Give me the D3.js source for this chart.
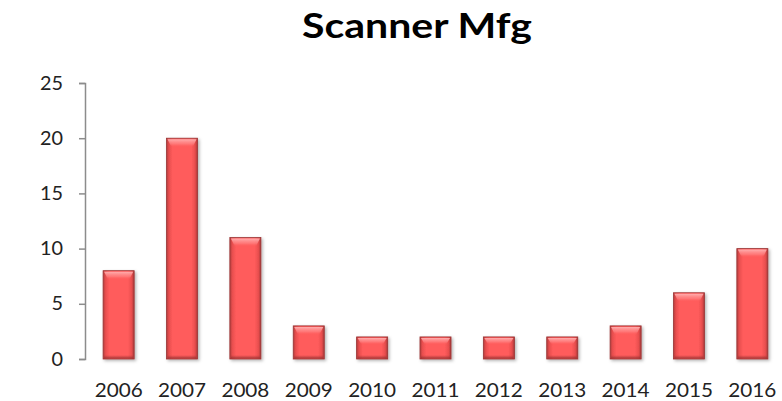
<!DOCTYPE html>
<html>
<head>
<meta charset="utf-8">
<script src="https://cdn.jsdelivr.net/npm/d3@7"></script>
<style>
  html, body { margin: 0; padding: 0; background: #fff; }
  svg { display: block; }
</style>
</head>
<body>
<script>
const title = "Scanner Mfg";
const years = ["2006","2007","2008","2009","2010","2011","2012","2013","2014","2015","2016"];
const values = [8, 20, 11, 3, 2, 2, 2, 2, 3, 6, 10];
const yTicks = [0, 5, 10, 15, 20, 25];

const W = 782, H = 401;
const svg = d3.select("body").append("svg").attr("width", W).attr("height", H);

const defs = svg.append("defs");
const g1 = defs.append("linearGradient").attr("id", "barH").attr("x1", 0).attr("x2", 1).attr("y1", 0).attr("y2", 0);
[[0, "#b33c3c"], [0.08, "#e84e4e"], [0.2, "#ff5c5c"], [0.8, "#ff5c5c"], [0.92, "#e84e4e"], [1, "#a83838"]]
  .forEach(([o, c]) => g1.append("stop").attr("offset", o).attr("stop-color", c));
const g2 = defs.append("linearGradient").attr("id", "barTop").attr("x1", 0).attr("x2", 0).attr("y1", 0).attr("y2", 1);
[[0, "#ffb3b3", 0.95], [0.6, "#ff8a8a", 0.6], [1, "#ff5c5c", 0]]
  .forEach(([o, c, a]) => g2.append("stop").attr("offset", o).attr("stop-color", c).attr("stop-opacity", a));
const g3 = defs.append("linearGradient").attr("id", "barBot").attr("x1", 0).attr("x2", 0).attr("y1", 0).attr("y2", 1);
[[0, "#a83838", 0], [1, "#8a2c2c", 0.8]]
  .forEach(([o, c, a]) => g3.append("stop").attr("offset", o).attr("stop-color", c).attr("stop-opacity", a));
const filt = defs.append("filter").attr("id", "shadow").attr("x", "-20%").attr("y", "-10%").attr("width", "150%").attr("height", "130%");
filt.append("feDropShadow").attr("dx", 1.5).attr("dy", 1.5).attr("stdDeviation", 1.5).attr("flood-color", "#000").attr("flood-opacity", 0.3);

const x = d3.scaleBand().domain(years).range([86, 785]).paddingInner(0.51).paddingOuter(0.27);
const y = d3.scaleLinear().domain([0, 25]).range([359, 83]);
const font = "Lato, 'Open Sans', sans-serif";

// title
svg.append("text").attr("x", 417).attr("y", 38).attr("text-anchor", "middle")
  .attr("font-family", font).attr("font-weight", "bold")
  .attr("font-size", 35).attr("fill", "#000")
  .attr("textLength", 230).attr("lengthAdjust", "spacingAndGlyphs").text(title);

// y axis
const yAxis = d3.axisLeft(y).tickValues(yTicks).tickSize(6).tickPadding(16);
const ya = svg.append("g").attr("transform", "translate(85,0)").call(yAxis);
ya.select(".domain").attr("stroke", "#8c8c8c").attr("stroke-width", 1.5);
ya.selectAll(".tick line").attr("stroke", "#8c8c8c").attr("stroke-width", 1.5);
ya.selectAll(".tick text").attr("font-family", font).attr("font-size", 19).attr("fill", "#222")
  .attr("textLength", d => String(d).length * 11.5).attr("lengthAdjust", "spacingAndGlyphs");

// x labels
const xAxis = d3.axisBottom(x).tickSize(0).tickPadding(0);
const xa = svg.append("g").attr("transform", "translate(0,383)").call(xAxis);
xa.select(".domain").remove();
xa.selectAll(".tick text").attr("font-family", font).attr("font-size", 19).attr("fill", "#222").attr("dy", "0.71em")
  .attr("textLength", 48).attr("lengthAdjust", "spacingAndGlyphs");

// bars
const bars = svg.append("g").selectAll("g").data(years.map((k, i) => ({ k, v: values[i] }))).join("g");
bars.append("rect")
  .attr("x", d => x(d.k)).attr("y", d => y(d.v))
  .attr("width", x.bandwidth()).attr("height", d => y(0) - y(d.v))
  .attr("fill", "url(#barH)").attr("stroke", "#9a3434").attr("stroke-width", 0.8)
  .attr("filter", "url(#shadow)");
bars.append("path")
  .attr("d", d => {
    const x0 = x(d.k), w = x.bandwidth(), t = y(d.v);
    const h = Math.min(9, (y(0) - y(d.v)) * 0.35);
    return `M${x0 + 1},${t + 1} L${x0 + w - 1},${t + 1} L${x0 + w - 5},${t + h} L${x0 + 5},${t + h} Z`;
  })
  .attr("fill", "url(#barTop)");
bars.append("rect")
  .attr("x", d => x(d.k) + 1).attr("y", y(0) - 4)
  .attr("width", x.bandwidth() - 2).attr("height", 3.5)
  .attr("fill", "url(#barBot)");
</script>
</body>
</html>
